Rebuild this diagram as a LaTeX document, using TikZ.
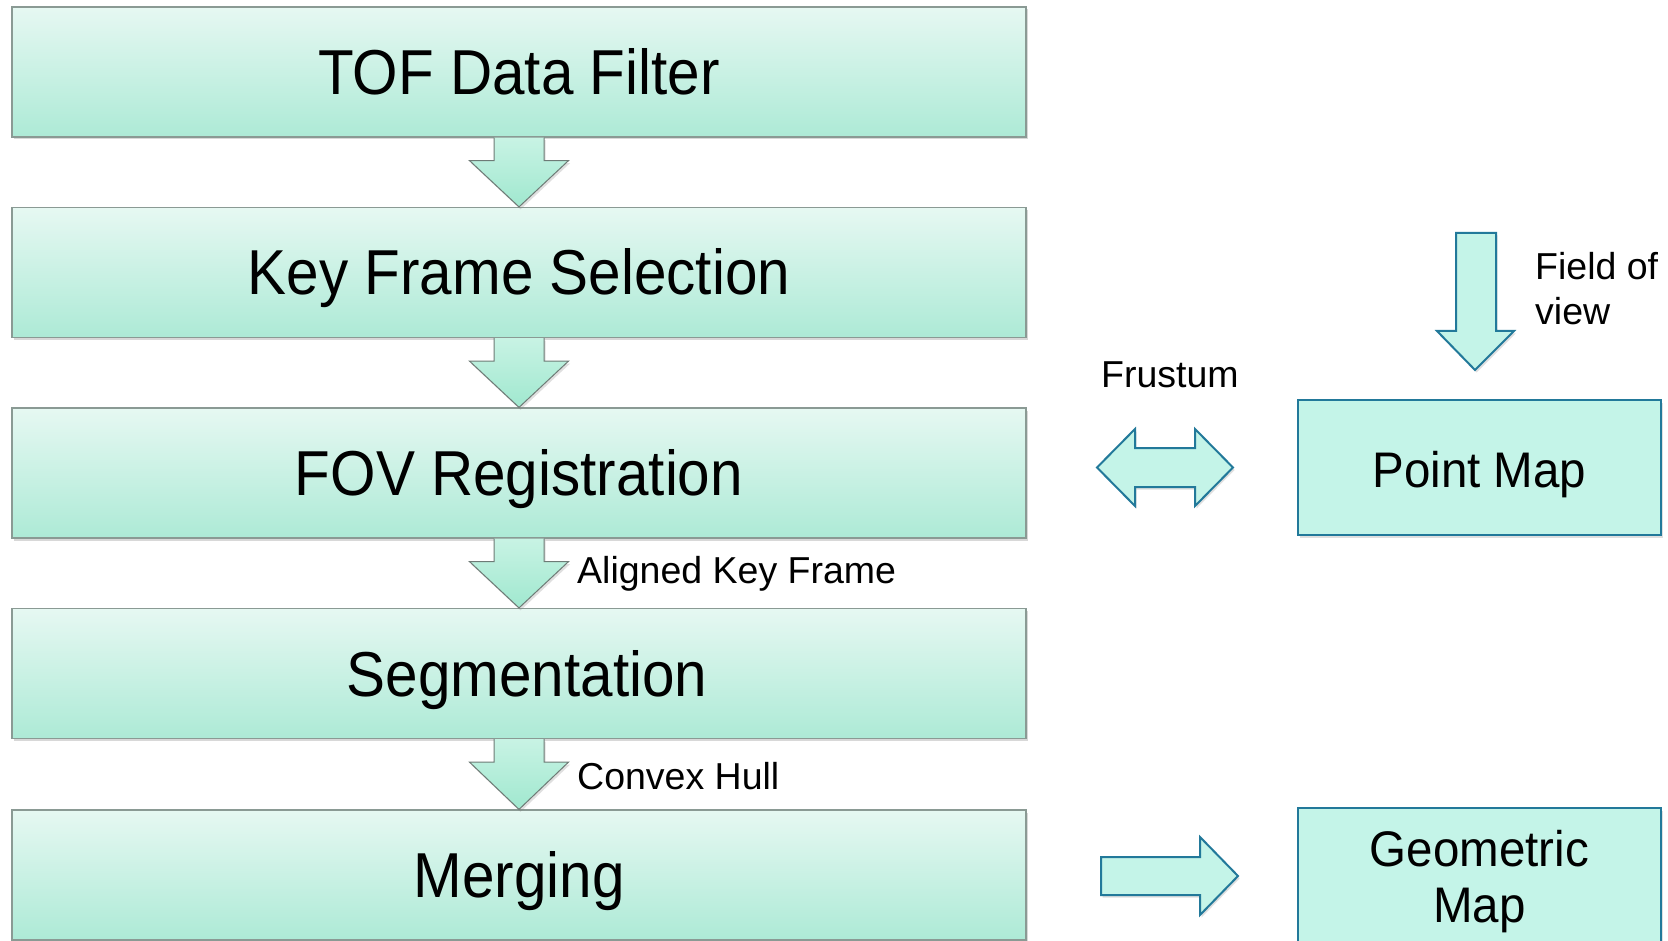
\documentclass[tikz,border=0pt]{standalone}
\usepackage{fontspec}
\setmainfont{Liberation Sans}
\usetikzlibrary{shadows}
\definecolor{boxtop}{HTML}{E6F8F2}
\definecolor{boxbot}{HTML}{ADEAD6}
\definecolor{arrtop}{HTML}{C8F3E4}
\definecolor{arrbot}{HTML}{A0E8CF}
\definecolor{boxline}{HTML}{8A9A94}
\definecolor{rfill}{HTML}{C4F4E8}
\definecolor{rline}{HTML}{22799A}
\newcommand{\bigtext}[1]{\scalebox{0.92}[1]{\fontsize{63.5}{70}\selectfont #1}}
\newcommand{\midtext}[1]{\scalebox{0.95}[1]{\fontsize{50}{56}\selectfont #1}}
\newcommand{\flowarr}[2]{%
  \path[flowarrow] ([xshift=-25pt]#1.south) -- ([xshift=-25pt,yshift=-23pt]#1.south)
    -- ([xshift=-49.5pt,yshift=-23pt]#1.south) -- (#2.north)
    -- ([xshift=49.5pt,yshift=-23pt]#1.south) -- ([xshift=25pt,yshift=-23pt]#1.south)
    -- ([xshift=25pt]#1.south);}
\tikzset{
  mainbox/.style={draw=boxline, line width=1.2pt, top color=boxtop, bottom color=boxbot,
    minimum width=1014pt, minimum height=130pt, inner sep=0pt,
    text height=45pt, text depth=0pt,
    drop shadow={shadow xshift=1.5pt, shadow yshift=-2.5pt, opacity=0.3}},
  flowarrow/.style={draw=boxline!80!black, line width=1pt, top color=arrtop, bottom color=arrbot,
    drop shadow={shadow xshift=1.5pt, shadow yshift=-2.5pt, opacity=0.25}},
  rshape/.style={draw=rline, line width=2pt, fill=rfill,
    drop shadow={shadow xshift=1.5pt, shadow yshift=-2.5pt, opacity=0.25}},
  rbox/.style={rshape, minimum width=363pt, inner sep=0pt, align=center,
    font=\fontsize{50}{56}\selectfont},
  lbl/.style={inner sep=0pt, font=\fontsize{37.5}{44}\selectfont, align=left}
}
\begin{document}
\begin{tikzpicture}[x=1pt,y=-1pt]
\useasboundingbox (0,0) rectangle (1668,941);
\clip (0,0) rectangle (1668,941);
\fill[white] (0,0) rectangle (1668,941);

\node[mainbox] (b1) at (519,72) {\bigtext{TOF Data Filter}};
\node[mainbox] (b2) at (519,272.5) {\bigtext{Key Frame Selection}};
\node[mainbox] (b3) at (519,473) {\bigtext{FOV Registration}};
\node[mainbox] (b4) at (519,673.5) {\hspace*{16pt}\bigtext{Segmentation}};
\node[mainbox] (b5) at (519,875) {\bigtext{Merging}};

\flowarr{b1}{b2}
\flowarr{b2}{b3}
\flowarr{b3}{b4}
\flowarr{b4}{b5}

\node[lbl, anchor=base west] (l1) at (577,583) {Aligned Key Frame};
\node[lbl, anchor=base west] (l2) at (577,789) {Convex Hull};

% right side
\node[rbox, minimum height=135pt, text height=34pt, text depth=0pt] (pm) at (1479.5,467.5) {\raisebox{-3pt}{\midtext{Point Map}}};
\node[rbox, minimum height=148pt] (gm) at (1479.5,882) {\midtext{Geometric}\\\midtext{Map}};

\path[rshape] (1456,233) -- (1496,233) -- (1496,331) -- (1514,331) -- (1475,370)
  -- (1437,331) -- (1456,331) -- cycle;
\node[lbl, anchor=base west] (fov) at (1535,324) {Field of\\view};

\path[rshape] (1097,467.5) -- (1135,429) -- (1135,448) -- (1195,448) -- (1195,429)
  -- (1233,467.5) -- (1195,506) -- (1195,487) -- (1135,487) -- (1135,506) -- cycle;
\node[lbl, anchor=base west] (fr) at (1101,387) {Frustum};

\path[rshape] (1101,857) -- (1200,857) -- (1200,837) -- (1238,876) -- (1200,915)
  -- (1200,895) -- (1101,895) -- cycle;
\end{tikzpicture}
\end{document}
